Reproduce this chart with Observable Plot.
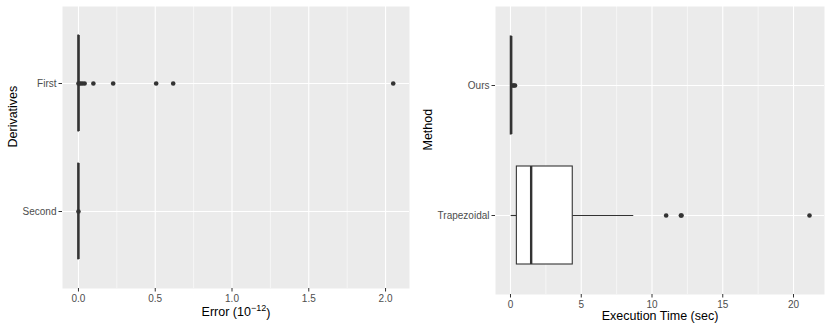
<!DOCTYPE html>
<html><head><meta charset="utf-8">
<script src="https://cdn.jsdelivr.net/npm/d3@7"></script>
<script src="https://cdn.jsdelivr.net/npm/@observablehq/plot@0.6"></script>
<style>
body{margin:0;background:#fff;}
#wrap{display:flex;width:830px;height:332px;}
</style></head><body><div id="wrap"></div>
<script>
// Left panel: derivative error (units of 1e-12)
const derivCategories = ["First", "Second"];
const derivQ1 = [0, 0];
const derivMedian = [0.001, 0];
const derivQ3 = [0.003, 0.001];
const derivWhiskerLow = [0, 0];
const derivWhiskerHigh = [0.006, 0.002];
const derivOutlierCat = ["First","First","First","First","First","First","First","First","First","Second"];
const derivOutlierVal = [0.0, 0.012, 0.025, 0.04, 0.097, 0.226, 0.506, 0.617, 2.05, 0.0];
const derivTicks = [0, 0.5, 1, 1.5, 2];
const derivMinor = [0.25, 0.75, 1.25, 1.75];

// Right panel: execution time (sec)
const methodCategories = ["Ours", "Trapezoidal"];
const methodQ1 = [0.02, 0.45];
const methodMedian = [0.05, 1.46];
const methodQ3 = [0.08, 4.40];
const methodWhiskerLow = [0.0, 0.05];
const methodWhiskerHigh = [0.12, 8.71];
const methodOutlierCat = ["Ours","Ours","Ours","Trapezoidal","Trapezoidal","Trapezoidal","Trapezoidal"];
const methodOutlierVal = [0.15, 0.24, 0.32, 11.0, 12.04, 12.09, 21.13];
const methodTicks = [0, 5, 10, 15, 20];
const methodMinor = [2.5, 7.5, 12.5, 17.5];

function panel(o) {
  const boxes = o.cats.map((c, i) => ({c, q1: o.q1[i], med: o.med[i], q3: o.q3[i], lo: o.lo[i], hi: o.hi[i]}));
  const outs = o.oc.map((c, i) => ({c, v: o.ov[i]}));
  const dark = "#333333";
  return Plot.plot({
    width: 415, height: 332,
    marginLeft: o.marginLeft, marginRight: 6, marginTop: 6, marginBottom: o.marginBottom,
    style: {fontFamily: "'Liberation Sans', Arial, sans-serif", fontSize: "10px", background: "white", overflow: "visible"},
    x: {domain: o.domain},
    y: {type: "band", domain: o.cats, paddingInner: 0.25, paddingOuter: 0.225},
    marks: [
      Plot.frame({fill: "#EBEBEB", stroke: null}),
      Plot.ruleX(o.minor, {stroke: "white", strokeWidth: 0.55}),
      Plot.ruleX(o.ticks, {stroke: "white", strokeWidth: 1.1}),
      Plot.ruleY(o.cats, {y: d => d, stroke: "white", strokeWidth: 1.1}),
      Plot.ruleY(boxes, {y: "c", x1: "lo", x2: "q1", stroke: dark, strokeWidth: 1.1}),
      Plot.ruleY(boxes, {y: "c", x1: "q3", x2: "hi", stroke: dark, strokeWidth: 1.1}),
      Plot.barX(boxes, {y: "c", x1: "q1", x2: "q3", fill: "white", stroke: dark, strokeWidth: 1.1}),
      Plot.tickX(boxes, {y: "c", x: "med", stroke: dark, strokeWidth: 2.4}),
      Plot.dot(outs, {x: "v", y: "c", r: 2.3, fill: dark, stroke: null}),
      Plot.axisX(o.ticks, {tickSize: 3.5, tickPadding: 2.5, tickFormat: o.fmt, fill: "#4D4D4D", stroke: dark, label: null}),
      Plot.axisY({tickSize: 3.5, tickPadding: 2.5, fill: "#4D4D4D", stroke: dark, label: null}),
      Plot.text([o.xLabel], {text: d => d, frameAnchor: "bottom", dy: o.xLabelDy, fontSize: 12.5, fill: "black", className: "xtitle"}),
      Plot.text([o.yLabel], {text: d => d, frameAnchor: "left", dx: o.yLabelDx, rotate: -90, fontSize: 12.5, fill: "black"})
    ]
  });
}

const wrap = document.getElementById("wrap");
const left = panel({
  cats: derivCategories, q1: derivQ1, med: derivMedian, q3: derivQ3, lo: derivWhiskerLow, hi: derivWhiskerHigh,
  oc: derivOutlierCat, ov: derivOutlierVal, ticks: derivTicks, minor: derivMinor,
  domain: [-0.104, 2.156], fmt: d3.format(".1f"),
  xLabel: "Error (10−12)", yLabel: "Derivatives",
  marginLeft: 62, marginBottom: 44, xLabelDy: 27, yLabelDx: -50
});
wrap.append(left);
// render the exponent as a raised superscript, keeping it as real text
d3.select(left).selectAll("g.xtitle text").each(function() {
  const t = d3.select(this);
  t.text(null);
  t.append("tspan").text("Error (10");
  t.append("tspan").attr("dy", "-0.45em").attr("font-size", "9px").text("−12");
  t.append("tspan").attr("dy", "0.45em").text(")");
});
wrap.append(panel({
  cats: methodCategories, q1: methodQ1, med: methodMedian, q3: methodQ3, lo: methodWhiskerLow, hi: methodWhiskerHigh,
  oc: methodOutlierCat, ov: methodOutlierVal, ticks: methodTicks, minor: methodMinor,
  domain: [-1.06, 22.19], fmt: d3.format("d"),
  xLabel: "Execution Time (sec)", yLabel: "Method",
  marginLeft: 80, marginBottom: 38, xLabelDy: 25, yLabelDx: -68
}));
</script></body></html>
